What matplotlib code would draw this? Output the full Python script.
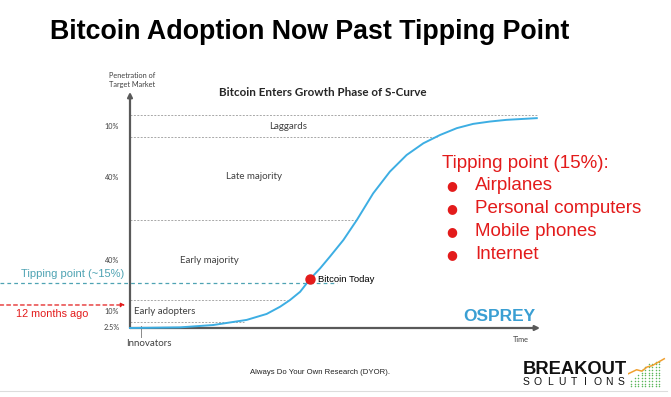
import matplotlib.pyplot as plt
from matplotlib.lines import Line2D

# S-curve (time units 0-100, penetration 0-110)
curve_x = [0, 4.9, 12.3, 20.4, 28.6, 33.5, 36.8, 39.2, 41.7, 44.1, 46.6, 49.0, 52.3, 55.6,
           59.6, 63.7, 67.8, 71.9, 76.0, 80.1, 84.1, 88.2, 92.3, 99.7]
curve_y = [0, 0.1, 0.3, 1.4, 3.8, 6.6, 10.0, 13.1, 17.0, 22.9, 28.0, 33.5, 41.3, 50.7,
           63.2, 73.4, 81.2, 86.7, 90.6, 93.8, 95.8, 96.9, 97.7, 98.5]

# segment boundaries (dotted lines) and where each one stops
bound_y = [3.0, 13.1, 50.7, 89.8, 100.0]
bound_end = [28.0, 38.4, 55.6, 75.2, 99.8]

# segment names and their positions
seg_names = ['Laggards', 'Late majority', 'Early majority', 'Early adopters', 'Innovators']
seg_x = [38.8, 30.3, 19.4, 8.4, 4.7]
seg_y = [94.5, 70.9, 31.9, 7.7, -7.2]

# share labels on the left
share_labels = ['10%', '40%', '40%', '10%', '2.5%']
share_y = [94.5, 70.8, 31.9, 7.7, 0.3]

tipping_y = 21.0
tipping_end = 50.7
months_ago_y = 10.8
left_edge = -31.9

today_x, today_y = 44.1, 22.9

examples = ['Airplanes', 'Personal computers', 'Mobile phones', 'Internet']

# logo icon bits
icon_cols = [1, 2, 3, 4, 5, 6, 7, 8, 9]
icon_heights = [3, 4, 5, 7, 8, 9, 9, 10, 10]
icon_line_x = [0.0, 2.5, 4.0, 5.5, 7.0, 10.5]
icon_line_y = [5.5, 7.0, 6.5, 8.0, 8.5, 11.0]

RED = '#e31b1b'
TEAL = '#4ea3b3'
BLUE = '#3daee3'
AXIS = '#595959'
LABEL = '#404040'

W, H = 671, 397
fig = plt.figure(figsize=(W / 100, H / 100), dpi=100)

# main chart area
ax = fig.add_axes([130 / W, 1 - 328 / H, 408 / W, 235 / H])
ax.set_xlim(0, 100)
ax.set_ylim(0, 110.3)
ax.axis('off')

# axes with arrow heads
ax.annotate('', xy=(100.5, 0), xytext=(0, 0), annotation_clip=False,
            arrowprops=dict(arrowstyle='-|>', color=AXIS, lw=1.6, mutation_scale=7,
                            shrinkA=0, shrinkB=0))
ax.annotate('', xy=(0, 110.8), xytext=(0, 0), annotation_clip=False,
            arrowprops=dict(arrowstyle='-|>', color=AXIS, lw=1.6, mutation_scale=7,
                            shrinkA=0, shrinkB=0))

for yb, xe in zip(bound_y, bound_end):
    ax.plot([0, xe], [yb, yb], color='#a8a8a8', lw=0.7, ls=(0, (2, 1.5)), clip_on=False)

ax.plot(curve_x, curve_y, color=BLUE, lw=1.4, clip_on=False, zorder=3,
        solid_joinstyle='round')

for name, x, y in zip(seg_names, seg_x, seg_y):
    ax.text(x, y, name, ha='center', va='center', fontsize=7, color=LABEL,
            family='Lato', clip_on=False)
# innovators tick
ax.plot([2.7, 2.7], [0.9, -4.1], color='#8a8a8a', lw=0.7, clip_on=False)

for lab, y in zip(share_labels, share_y):
    ax.text(-4.4, y, lab, ha='center', va='center', fontsize=5.2, color=LABEL,
            family='Lato', clip_on=False)

ax.text(0.5, 116.4, 'Penetration of\nTarget Market', ha='center', va='center',
        fontsize=5.3, color=LABEL, family='Lato', linespacing=1.3, clip_on=False)
ax.text(47.2, 110.3, 'Bitcoin Enters Growth Phase of S-Curve', ha='center', va='center',
        fontsize=8.4, fontweight='bold', color='#262626', family='Lato', clip_on=False)
ax.text(95.8, -5.2, 'Time', ha='center', va='center', fontsize=5.3, color=LABEL,
        family='Lato', clip_on=False)
ax.text(90.4, 5.2, 'OSPREY', ha='center', va='center', fontsize=12.5, fontweight='bold',
        color='#3a9fd3', family='Liberation Sans', clip_on=False)

# tipping point line and 12 months ago arrow
ax.plot([left_edge, tipping_end], [tipping_y, tipping_y], color=TEAL, lw=0.9,
        ls=(0, (3, 2.5)), clip_on=False)
ax.text(-26.7, 25.4, 'Tipping point (~15%)', ha='left', va='center', fontsize=8,
        color=TEAL, family='Liberation Sans', clip_on=False)
ax.annotate('', xy=(-1.2, months_ago_y), xytext=(left_edge, months_ago_y), annotation_clip=False,
            arrowprops=dict(arrowstyle='-|>', color=RED, lw=0.9, ls=(0, (3, 2.5)),
                            mutation_scale=6, shrinkA=0, shrinkB=0))
ax.text(-28.0, 6.6, '12 months ago', ha='left', va='center', fontsize=7.8,
        color=RED, family='Liberation Sans', clip_on=False)

ax.plot([today_x], [today_y], 'o', color=RED, ms=6.5, zorder=4, clip_on=False)
ax.text(today_x + 1.9, today_y, 'Bitcoin Today', ha='left', va='center', fontsize=6.8,
        color='black', family='Liberation Sans', clip_on=False)

# title
fig.text(50 / W, 1 - 39 / H, 'Bitcoin Adoption Now Past Tipping Point', ha='left',
         va='baseline', fontsize=19.3, fontweight='bold', family='Liberation Sans')

# tipping point examples
fig.text(442 / W, 1 - 163 / H, 'Tipping point (15%):', ha='left', va='center',
         fontsize=13.5, color=RED, family='Liberation Sans')
for i, item in enumerate(examples):
    yy = 1 - (186 + i * 22.8) / H
    fig.text(452 / W, yy, '\u25cf', ha='center', va='center', fontsize=9, color=RED,
             family='DejaVu Sans')
    fig.text(475 / W, yy, item, ha='left', va='center', fontsize=13.5, color=RED,
             family='Liberation Sans')

# footer
fig.text(320 / W, 1 - 372 / H, 'Always Do Your Own Research (DYOR).', ha='center', va='center',
         fontsize=5.6, color='#222222', family='Liberation Sans')
fig.add_artist(Line2D([0, 667 / W], [1 - 391 / H, 1 - 391 / H], color='#dddddd', lw=0.8))
fig.text(523 / W, 1 - 374 / H, 'BREAKOUT', ha='left', va='baseline', fontsize=13.2,
         fontweight='bold', color='#111111', family='Liberation Sans')
for k, ch in enumerate('SOLUTIONS'):
    fig.text((526 + k * 11.9) / W, 1 - 382 / H, ch, ha='center', va='center', fontsize=7.5,
             color='#111111', family='Liberation Sans')

# little logo icon
iax = fig.add_axes([628 / W, 1 - 389 / H, 38 / W, 33 / H])
iax.set_xlim(0, 11)
iax.set_ylim(0, 12)
iax.axis('off')
for cx, hgt in zip(icon_cols, icon_heights):
    iax.scatter([cx] * hgt, [1 + k for k in range(hgt)], s=1.2, color='#5cb85c', lw=0)
iax.plot(icon_line_x, icon_line_y, color='#f0a030', lw=1.1)

fig.savefig('out.png', dpi=100, facecolor='white')
